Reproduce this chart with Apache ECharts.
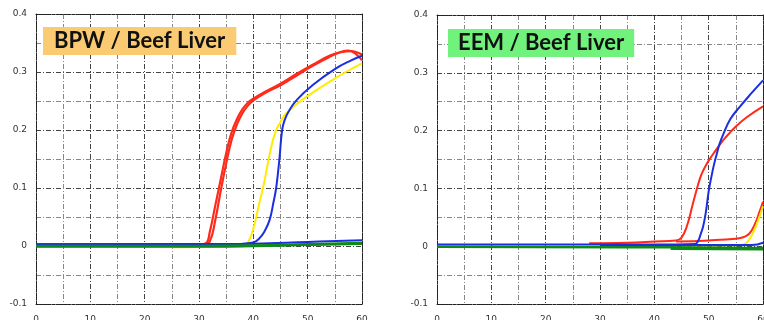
<!DOCTYPE html>
<html>
<head>
<meta charset="utf-8">
<script src="https://cdn.jsdelivr.net/npm/echarts@6/dist/echarts.min.js"></script>
<style>
  html, body { margin: 0; padding: 0; background: #fff; }
  #main { width: 764px; height: 320px; }
</style>
</head>
<body>
<div id="main"></div>
<script>
// panel titles
const titles = ['BPW / Beef Liver', 'EEM / Beef Liver']

// axis ranges (cycle on x, fluorescence on y)
const xRange = [0, 60, 5]
const yRange = [-0.1, 0.4, 0.05]

// BPW / Beef Liver curves, [cycle, value]
const bpwRedA = [[17, 0.002], [25, 0.002], [30, 0.003], [31.3, 0.005], [32, 0.025], [33, 0.07], [34, 0.115], [35, 0.16], [36, 0.196], [37, 0.219], [38, 0.236], [39, 0.247], [40, 0.254], [42, 0.265], [45, 0.28], [48, 0.297], [51, 0.313], [54, 0.328], [56, 0.334], [58, 0.336], [59, 0.334], [60, 0.33]]
const bpwRedB = [[25, 0.001], [31, 0.003], [32, 0.008], [33, 0.045], [34, 0.095], [35, 0.142], [36, 0.183], [37, 0.21], [38, 0.229], [39, 0.242], [40, 0.251], [42, 0.263], [45, 0.277], [48, 0.294], [51, 0.311], [54, 0.326], [56, 0.334], [57.5, 0.337], [59, 0.33], [60, 0.32]]
const bpwYellow = [[25, -0.002], [38, -0.001], [39, 0.006], [40, 0.03], [41, 0.07], [42, 0.11], [43, 0.158], [44, 0.195], [45, 0.214], [46, 0.228], [48, 0.245], [51, 0.265], [54, 0.283], [57, 0.3], [60, 0.315]]
const bpwBlue = [[0, 0.003], [38, 0.004], [40, 0.006], [41, 0.012], [42, 0.024], [43, 0.045], [43.7, 0.075], [44.2, 0.1], [44.8, 0.15], [45.3, 0.2], [45.8, 0.218], [46.5, 0.232], [48, 0.252], [51, 0.278], [55, 0.305], [58, 0.32], [60, 0.328]]
const bpwBlueFlat = [[0, 0.003], [30, 0.003], [40, 0.004], [50, 0.007], [60, 0.01]]
const bpwGreen = [[0, 0], [30, 0], [40, 0.001], [50, 0.003], [60, 0.005]]
const bpwGreenB = [[0, -0.001], [30, -0.001], [45, 0.001], [60, 0.004]]

// EEM / Beef Liver curves
const eemRedA = [[28, 0.005], [35, 0.006], [40, 0.008], [44, 0.01], [45, 0.015], [46, 0.035], [47, 0.07], [48, 0.105], [48.5, 0.12], [49, 0.131], [49.5, 0.14], [50, 0.148], [51, 0.162], [52, 0.175], [53, 0.187], [55, 0.207], [57, 0.223], [60, 0.242]]
const eemRedB = [[44, 0.008], [50, 0.01], [55, 0.013], [56.5, 0.016], [57.5, 0.022], [58.5, 0.038], [59.3, 0.058], [60, 0.077]]
const eemYellow = [[45, 0.001], [56, 0.002], [57, 0.006], [58, 0.02], [59, 0.042], [60, 0.069]]
const eemBlue = [[0, 0.003], [40, 0.003], [47.5, 0.004], [48, 0.008], [48.5, 0.02], [49, 0.035], [49.5, 0.06], [50, 0.095], [50.5, 0.12], [51, 0.142], [51.5, 0.16], [52, 0.177], [52.7, 0.194], [54, 0.22], [55.8, 0.242], [58, 0.266], [60, 0.287]]
const eemBlueFlat = [[30, 0.002], [58, 0.002], [60, 0.006]]
const eemGreen = [[0, -0.001], [43, -0.002], [60, -0.003]]
const eemGreenB = [[43, -0.004], [60, -0.005]]

const RED = '#ff2a1a', YELLOW = '#ffec00', BLUE = '#1c2fe0', GREEN = '#0e8a1c'
const gridDash = [5, 2, 1, 2]

function line(data, color, idx, w) {
  return {
    type: 'line', data: data, xAxisIndex: idx, yAxisIndex: idx,
    smooth: 0.45, showSymbol: false, silent: true,
    lineStyle: { color: color, width: w || 2 }
  }
}

function xMain(g) {
  return {
    type: 'value', gridIndex: g, min: xRange[0], max: xRange[1], interval: xRange[2],
    axisLine: { show: true, onZero: false, lineStyle: { color: '#222', width: 1, type: [3, 1] } },
    axisTick: { show: false },
    axisLabel: { margin: 11, fontSize: 9, color: '#333', fontFamily: 'DejaVu Sans',
      formatter: v => (v % 10 === 0 ? String(v) : '') },
    splitLine: { show: true, lineStyle: { color: ['#444', '#888'], width: 1, type: gridDash } }
  }
}
function xTop(g) {
  return {
    type: 'value', gridIndex: g, position: 'top', min: xRange[0], max: xRange[1], interval: xRange[2],
    axisLine: { show: true, onZero: false, lineStyle: { color: '#222', width: 1, type: [3, 1] } },
    axisTick: { show: false }, axisLabel: { show: false }, splitLine: { show: false }
  }
}
function yMain(g) {
  return {
    type: 'value', gridIndex: g, min: yRange[0], max: yRange[1], interval: yRange[2],
    axisLine: { show: true, onZero: false, lineStyle: { color: '#222', width: 1, type: [3, 1] } },
    axisTick: { show: false },
    axisLabel: { margin: 9, fontSize: 9, color: '#333', fontFamily: 'DejaVu Sans',
      formatter: v => {
        const t = Math.round(v * 100)
        if (t % 10 !== 0) return ''
        return t === 0 ? '0' : (t / 100).toFixed(1)
      } },
    splitLine: { show: true, lineStyle: { color: ['#444', '#888'], width: 1, type: gridDash } }
  }
}
function yRight(g) {
  return {
    type: 'value', gridIndex: g, position: 'right', min: yRange[0], max: yRange[1], interval: yRange[2],
    axisLine: { show: true, onZero: false, lineStyle: { color: '#222', width: 1, type: [3, 1] } },
    axisTick: { show: false }, axisLabel: { show: false }, splitLine: { show: false }
  }
}

const titleStyle = { fontSize: 22, fontWeight: 'bold', color: '#111', fontFamily: 'Lato', lineHeight: 28 }

const chart = echarts.init(document.getElementById('main'), null, { renderer: 'canvas' })
chart.setOption({
  animation: false,
  backgroundColor: '#fff',
  title: [
    { text: titles[0], left: 43, top: 27, padding: [0, 11], backgroundColor: '#facb72', textStyle: titleStyle },
    { text: titles[1], left: 448, top: 29, padding: [0, 10], backgroundColor: '#70f27c', textStyle: titleStyle }
  ],
  grid: [
    { left: 36, top: 14, width: 326, height: 290, containLabel: false, outerBoundsMode: 'none' },
    { left: 437, top: 15, width: 326, height: 289, containLabel: false, outerBoundsMode: 'none' }
  ],
  xAxis: [xMain(0), xTop(0), xMain(1), xTop(1)],
  yAxis: [yMain(0), yRight(0), yMain(1), yRight(1)],
  series: [
    line(bpwRedA, RED, 0, 2.2), line(bpwRedB, RED, 0, 2.2), line(bpwYellow, YELLOW, 0),
    line(bpwBlue, BLUE, 0), line(bpwBlueFlat, BLUE, 0), line(bpwGreenB, GREEN, 0, 2.5), line(bpwGreen, GREEN, 0, 2.5),
    line(eemRedA, RED, 2), line(eemRedB, RED, 2), line(eemYellow, YELLOW, 2),
    line(eemBlue, BLUE, 2), line(eemBlueFlat, BLUE, 2), line(eemGreen, GREEN, 2, 2.5), line(eemGreenB, GREEN, 2, 3)
  ]
})
</script>
</body>
</html>
